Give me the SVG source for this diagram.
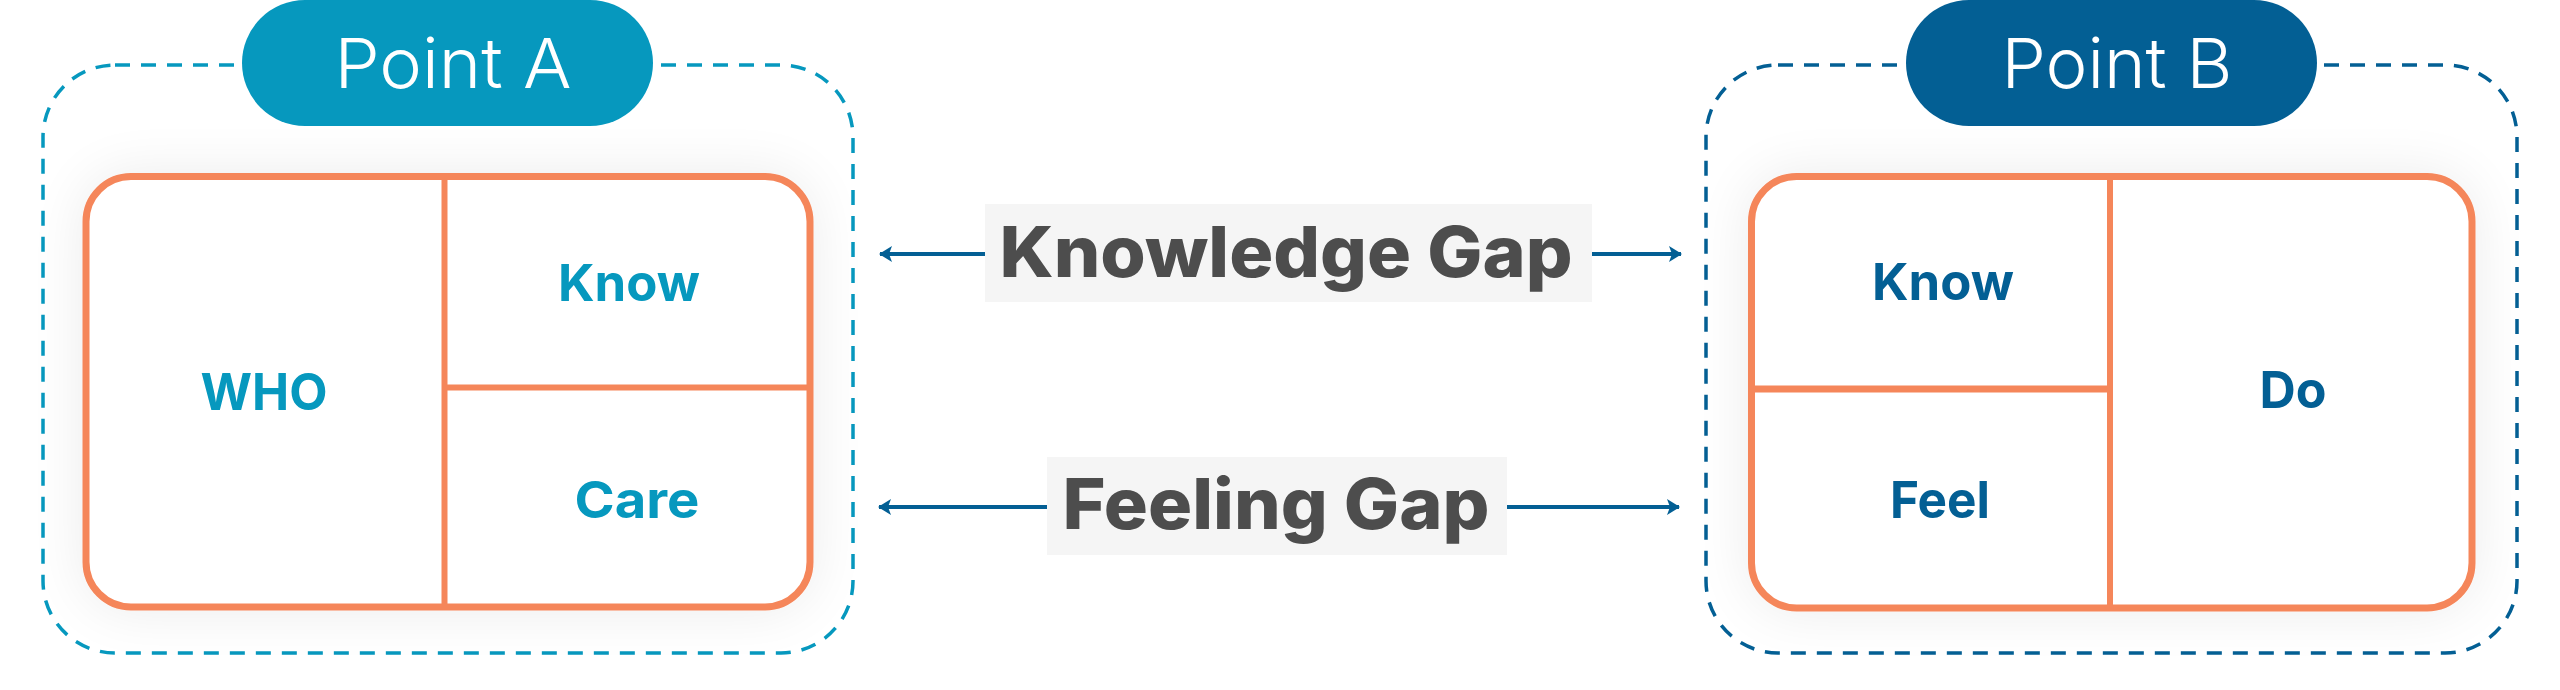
<svg xmlns="http://www.w3.org/2000/svg" width="2560" height="690" viewBox="0 0 2560 690">
  <style>
    .frameA { fill: none; stroke: #0698BE; stroke-width: 3.5; stroke-dasharray: 15 11; }
    .frameB { fill: none; stroke: #035F94; stroke-width: 3.5; stroke-dasharray: 15 11; }
    .card { fill: #FFFFFF; stroke: #F5865A; stroke-width: 7; }
    .div { stroke: #F5865A; stroke-width: 6; fill: none; }
    .pillA { fill: #0698BE; }
    .pillB { fill: #035F94; }
    .pillText { font-family: Inter, "Noto Sans", sans-serif; font-weight: 300; font-size: 69px; fill: #FFFFFF; text-anchor: middle; }
    .cellA { font-family: Inter, "Noto Sans", sans-serif; font-weight: 700; font-size: 51px; fill: #0698BE; text-anchor: middle; }
    .cellB { font-family: Inter, "Noto Sans", sans-serif; font-weight: 700; font-size: 51px; fill: #035F94; text-anchor: middle; }
    .gapBg { fill: #F5F5F5; }
    .gapText { font-family: Inter, "Noto Sans", sans-serif; font-weight: 800; font-size: 70px; fill: #4D4D4D; text-anchor: middle; }
    .conn { stroke: #035F94; stroke-width: 4; fill: none; marker-end: url(#arrow); }
  </style>
  <defs>
    <marker id="arrow" markerWidth="14" markerHeight="18" refX="12" refY="9" orient="auto" markerUnits="userSpaceOnUse">
      <path d="M0,1 L13,9 L0,17 L3,9 Z" fill="#035F94"/>
    </marker>
    <filter id="shadow" x="-20%" y="-30%" width="140%" height="160%">
      <feGaussianBlur in="SourceAlpha" stdDeviation="28"/>
      <feComponentTransfer><feFuncA type="linear" slope="0.08"/></feComponentTransfer>
      <feMerge><feMergeNode/><feMergeNode in="SourceGraphic"/></feMerge>
    </filter>
  </defs>
  <rect width="2560" height="690" fill="#FFFFFF"/>

  <g id="pointA">
    <rect class="frameA" x="43" y="65" width="810" height="588" rx="72"/>
    <rect class="pillA" x="242" y="0" width="411" height="126" rx="63"/>
    <text class="pillText" x="453" y="88" textLength="237" lengthAdjust="spacingAndGlyphs">Point A</text>
    <g id="cardA" filter="url(#shadow)">
      <rect class="card" x="86" y="176.5" width="724" height="430.5" rx="45"/>
    </g>
    <line class="div" x1="444.5" y1="176" x2="444.5" y2="610"/>
    <line class="div" x1="444" y1="387.5" x2="810" y2="387.5"/>
    <text id="a-who" class="cellA" x="264" y="410" textLength="127" lengthAdjust="spacingAndGlyphs">WHO</text>
    <text id="a-know" class="cellA" x="629" y="301" textLength="142" lengthAdjust="spacingAndGlyphs">Know</text>
    <text id="a-care" class="cellA" x="637" y="518" textLength="125" lengthAdjust="spacingAndGlyphs">Care</text>
  </g>

  <g id="pointB">
    <rect class="frameB" x="1706" y="65" width="811" height="588" rx="72"/>
    <rect class="pillB" x="1906" y="0" width="411" height="126" rx="63"/>
    <text class="pillText" x="2117" y="88" textLength="231" lengthAdjust="spacingAndGlyphs">Point B</text>
    <g id="cardB" filter="url(#shadow)">
      <rect class="card" x="1751.5" y="176.5" width="720.5" height="431.5" rx="45"/>
    </g>
    <line class="div" x1="2110" y1="176" x2="2110" y2="611"/>
    <line class="div" x1="1752" y1="389" x2="2110" y2="389" style="stroke-width:7"/>
    <text id="b-know" class="cellB" x="1943" y="300" textLength="142" lengthAdjust="spacingAndGlyphs">Know</text>
    <text id="b-feel" class="cellB" x="1940" y="518" textLength="100" lengthAdjust="spacingAndGlyphs">Feel</text>
    <text id="b-do" class="cellB" x="2293" y="408" textLength="67" lengthAdjust="spacingAndGlyphs">Do</text>
  </g>

  <g id="knowledgeGap">
    <rect class="gapBg" x="985" y="204" width="607" height="98"/>
    <text class="gapText" x="1286" y="277" textLength="573" lengthAdjust="spacingAndGlyphs">Knowledge Gap</text>
  </g>
  <g id="feelingGap">
    <rect class="gapBg" x="1047" y="457" width="460" height="98"/>
    <text class="gapText" x="1276" y="529" textLength="427" lengthAdjust="spacingAndGlyphs">Feeling Gap</text>
  </g>

  <g id="connectors">
    <line class="conn" x1="985" y1="254" x2="880" y2="254"/>
    <line class="conn" x1="1592" y1="254" x2="1681" y2="254"/>
    <line class="conn" x1="1047" y1="507" x2="879" y2="507"/>
    <line class="conn" x1="1507" y1="507" x2="1679" y2="507"/>
  </g>
</svg>
